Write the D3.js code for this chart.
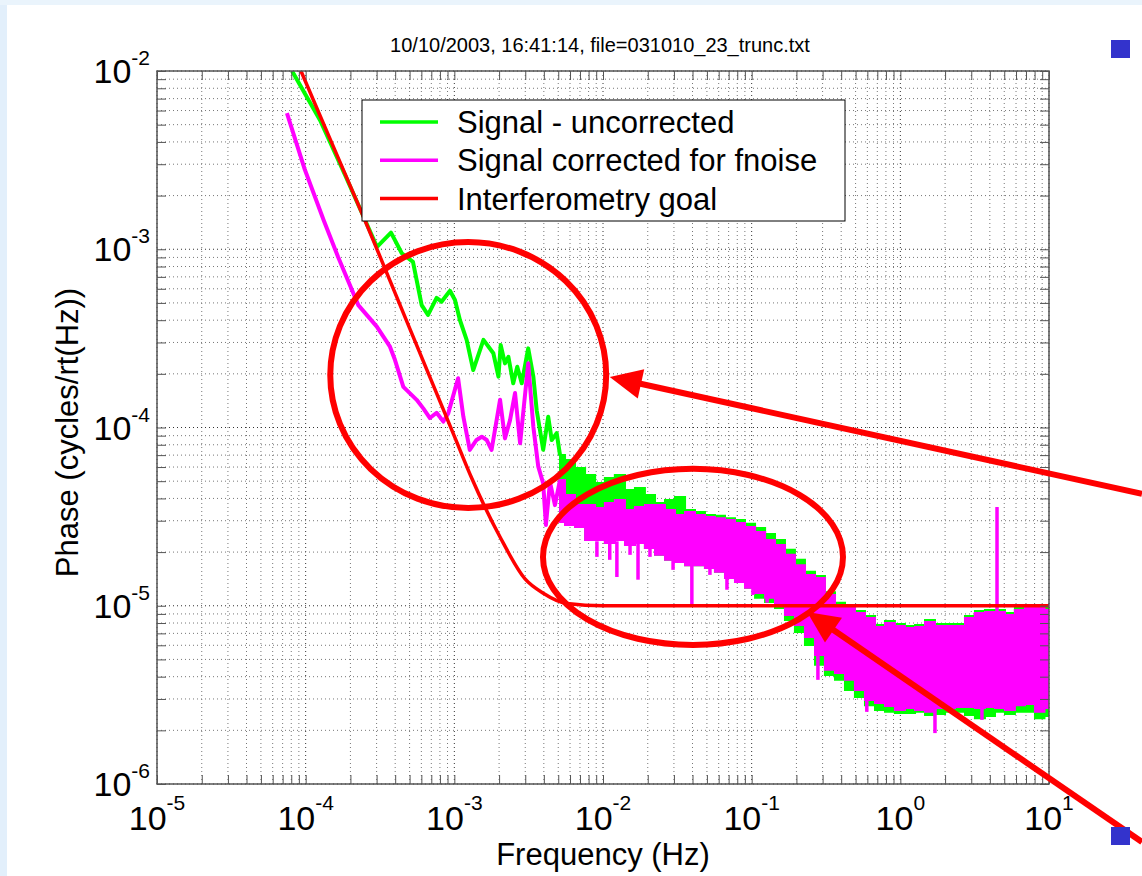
<!DOCTYPE html>
<html>
<head>
<meta charset="utf-8">
<script src="https://cdn.jsdelivr.net/npm/d3@7"></script>
<style>
	body { margin: 0; background: #fff; }
	text { font-family: Arial, "Liberation Sans", sans-serif; fill: #000; }
</style>
</head>
<body>
<svg id="chart"></svg>
<script>
var titleText = '10/10/2003, 16:41:14, file=031010_23_trunc.txt';
var seriesNames = ['Signal - uncorrected', 'Signal corrected for fnoise', 'Interferometry goal'];
var seriesColors = ['#00ff00', '#ff00ff', '#ff0000'];
var xLabel = 'Frequency (Hz)';
var yLabel = 'Phase (cycles/rt(Hz))';

// low frequency part of the spectra, [Hz, cycles/rt(Hz)]
var greenLow = [
	[8.1e-5, 1.0e-2], [1.25e-4, 5.3e-3], [1.84e-4, 2.61e-3], [3.02e-4, 1.03e-3],
	[3.75e-4, 1.24e-3], [4.43e-4, 9.5e-4], [5.27e-4, 8.5e-4], [6.03e-4, 4.86e-4],
	[6.65e-4, 4.28e-4], [7.6e-4, 5.33e-4], [8.2e-4, 5.08e-4], [9.35e-4, 5.85e-4],
	[1.01e-3, 5.19e-4], [1.09e-3, 4.01e-4], [1.21e-3, 3.10e-4], [1.34e-3, 2.10e-4],
	[1.57e-3, 3.10e-4], [1.83e-3, 2.61e-4], [1.98e-3, 1.93e-4], [2.05e-3, 2.90e-4],
	[2.19e-3, 2.29e-4], [2.31e-3, 2.49e-4], [2.49e-3, 1.77e-4], [2.65e-3, 2.19e-4],
	[2.84e-3, 1.77e-4], [3.14e-3, 2.78e-4], [3.40e-3, 1.93e-4], [3.58e-3, 1.25e-4],
	[3.96e-3, 7.5e-5], [4.28e-3, 1.15e-4], [4.52e-3, 8.5e-5], [4.88e-3, 9.3e-5],
	[5.14e-3, 7.0e-5]
];

var magentaLow = [
	[7.48e-5, 5.81e-3], [9.88e-5, 2.79e-3], [1.32e-4, 1.46e-3], [1.65e-4, 9.08e-4],
	[2.26e-4, 4.86e-4], [3.01e-4, 3.68e-4], [3.69e-4, 2.84e-4], [3.99e-4, 2.39e-4],
	[4.54e-4, 1.69e-4], [5.58e-4, 1.43e-4], [6.18e-4, 1.28e-4], [6.85e-4, 1.13e-4],
	[7.60e-4, 1.21e-4], [8.43e-4, 1.08e-4], [9.10e-4, 1.20e-4], [1.06e-3, 1.89e-4],
	[1.15e-3, 1.15e-4], [1.27e-3, 7.48e-5], [1.41e-3, 8.51e-5], [1.53e-3, 8.88e-5],
	[1.65e-3, 8.51e-5], [1.78e-3, 7.48e-5], [2.03e-3, 1.43e-4], [2.19e-3, 8.69e-5],
	[2.37e-3, 1.10e-4], [2.56e-3, 1.56e-4], [2.77e-3, 8.15e-5], [3.14e-3, 2.29e-4],
	[3.40e-3, 1.01e-4], [3.67e-3, 6.03e-5], [3.96e-3, 4.86e-5], [4.13e-3, 2.84e-5],
	[4.40e-3, 4.94e-5], [4.75e-3, 3.67e-5], [5.14e-3, 5.08e-5]
];

var goalCurve = [
	[8.0e-5, 1.35e-2], [9.3e-5, 1.0e-2], [1.5e-4, 3.94e-3], [2.5e-4, 1.46e-3],
	[5.0e-4, 3.61e-4], [1.0e-3, 8.95e-5], [1.31e-3, 5.19e-5], [2.03e-3, 2.43e-5],
	[3.0e-3, 1.41e-5], [3.94e-3, 1.18e-5], [5.73e-3, 1.03e-5], [1.0e-2, 1.0e-5],
	[10, 1.0e-5]
];

// dense noisy part: envelope of the spectra
var bandFreq = [
	5.14e-3, 6.0e-3, 7.0e-3, 8.2e-3, 9.55e-3, 1.11e-2, 1.30e-2, 1.52e-2, 1.77e-2, 2.07e-2,
	2.42e-2, 2.82e-2, 3.30e-2, 3.85e-2, 4.49e-2, 5.24e-2, 6.12e-2, 7.15e-2, 8.34e-2, 9.75e-2,
	0.114, 0.133, 0.155, 0.181, 0.211, 0.247, 0.288, 0.336, 0.393, 0.458,
	0.535, 0.625, 0.730, 0.851, 0.993, 1.16, 1.36, 1.58, 1.85, 2.16,
	2.52, 2.94, 3.43, 4.01, 4.68, 5.46, 6.37, 7.45, 8.69, 10
];
var magentaHi = [
	5.08e-5, 4.18e-5, 3.67e-5, 3.67e-5, 3.53e-5, 3.77e-5, 3.92e-5, 3.44e-5, 3.58e-5, 3.67e-5,
	3.67e-5, 3.44e-5, 3.23e-5, 3.36e-5, 3.23e-5, 3.15e-5, 3.10e-5, 3.03e-5, 2.91e-5, 2.77e-5,
	2.59e-5, 2.34e-5, 2.19e-5, 1.93e-5, 1.69e-5, 1.49e-5, 1.43e-5, 1.15e-5, 1.01e-5, 9.71e-6,
	9.10e-6, 8.53e-6, 7.60e-6, 8.00e-6, 7.70e-6, 7.50e-6, 7.60e-6, 8.11e-6, 7.70e-6, 7.70e-6,
	7.70e-6, 8.53e-6, 9.10e-6, 9.23e-6, 9.23e-6, 8.87e-6, 9.46e-6, 9.71e-6, 9.71e-6, 9.46e-6
];
var magentaLo = [
	2.95e-5, 2.84e-5, 2.77e-5, 2.34e-5, 2.34e-5, 2.25e-5, 2.34e-5, 2.19e-5, 2.25e-5, 2.11e-5,
	1.93e-5, 1.81e-5, 1.76e-5, 1.69e-5, 1.69e-5, 1.63e-5, 1.55e-5, 1.43e-5, 1.36e-5, 1.26e-5,
	1.18e-5, 1.11e-5, 1.01e-5, 8.87e-6, 7.80e-6, 6.68e-6, 5.30e-6, 4.37e-6, 4.20e-6, 3.84e-6,
	3.37e-6, 2.96e-6, 2.85e-6, 2.74e-6, 2.60e-6, 2.67e-6, 2.60e-6, 2.54e-6, 2.67e-6, 2.67e-6,
	2.70e-6, 2.70e-6, 2.67e-6, 2.70e-6, 2.67e-6, 2.60e-6, 2.77e-6, 2.81e-6, 2.54e-6, 2.67e-6
];
var greenHi = [
	7.01e-5, 6.57e-5, 5.93e-5, 5.42e-5, 4.89e-5, 5.21e-5, 5.42e-5, 4.46e-5, 4.58e-5, 4.18e-5,
	3.77e-5, 3.92e-5, 4.07e-5, 3.44e-5, 3.36e-5, 3.23e-5, 3.20e-5, 3.10e-5, 3.03e-5, 2.88e-5,
	2.73e-5, 2.53e-5, 2.34e-5, 2.06e-5, 1.81e-5, 1.55e-5, 1.47e-5, 1.19e-5, 1.04e-5, 9.97e-6,
	9.35e-6, 8.77e-6, 7.80e-6, 8.21e-6, 7.91e-6, 7.70e-6, 7.80e-6, 8.32e-6, 7.91e-6, 7.91e-6,
	7.91e-6, 8.77e-6, 9.35e-6, 9.46e-6, 9.46e-6, 9.10e-6, 9.71e-6, 9.97e-6, 9.97e-6, 9.71e-6
];
var greenLo = [
	2.95e-5, 2.84e-5, 2.77e-5, 2.34e-5, 2.34e-5, 2.25e-5, 2.34e-5, 2.19e-5, 2.25e-5, 2.11e-5,
	1.93e-5, 1.81e-5, 1.76e-5, 1.69e-5, 1.69e-5, 1.63e-5, 1.55e-5, 1.43e-5, 1.36e-5, 1.26e-5,
	1.11e-5, 1.05e-5, 9.71e-6, 8.32e-6, 7.13e-6, 6.03e-6, 4.66e-6, 4.09e-6, 3.84e-6, 3.37e-6,
	3.08e-6, 2.77e-6, 2.60e-6, 2.54e-6, 2.50e-6, 2.50e-6, 2.54e-6, 2.44e-6, 2.47e-6, 2.54e-6,
	2.54e-6, 2.44e-6, 2.34e-6, 2.41e-6, 2.54e-6, 2.47e-6, 2.54e-6, 2.54e-6, 2.34e-6, 2.41e-6
];

// single spikes sticking out of the band, [Hz, from, to]
var magentaSpikes = [
	[9.1e-3, 2.3e-5, 1.88e-5], [1.11e-2, 2.25e-5, 1.81e-5], [1.24e-2, 2.3e-5, 1.45e-5],
	[1.52e-2, 2.2e-5, 1.93e-5], [1.72e-2, 2.25e-5, 1.40e-5], [2.07e-2, 2.1e-5, 1.88e-5],
	[2.96e-2, 1.8e-5, 1.59e-5], [3.96e-2, 1.7e-5, 1.01e-5], [5.24e-2, 1.63e-5, 1.49e-5],
	[6.82e-2, 1.5e-5, 1.23e-5], [0.102, 1.26e-5, 1.15e-5], [0.127, 1.11e-5, 1.04e-5],
	[0.279, 5.5e-6, 3.84e-6], [0.595, 3.2e-6, 2.54e-6], [1.71, 2.7e-6, 1.93e-6],
	[3.54, 2.7e-6, 2.29e-6], [4.47, 9.2e-6, 3.58e-5]
];

// slide annotations: circled regions (centre, half widths in decades) and arrows
var circledRegions = [
	{f: 1.24e-3, v: 1.97e-4, fDecades: 0.928, vDecades: 0.746},
	{f: 4.03e-2, v: 1.88e-5, fDecades: 1.009, vDecades: 0.494}
];
var arrows = [
	{from: [42.2, 4.24e-5], to: [1.11e-2, 1.92e-4]},
	{from: [42.2, 4.73e-7], to: [0.236, 9.23e-6]}
];

var margin = {top: 71, right: 93, bottom: 92, left: 157},
	width = 1142 - margin.left - margin.right,
	height = 876 - margin.top - margin.bottom;

var svg = d3.select('#chart')
	.attr('width', 1142)
	.attr('height', 876);

svg.append('rect').attr('width', 1142).attr('height', 876).attr('fill', '#fff');
svg.append('rect').attr('width', 7).attr('height', 876).attr('fill', '#e2effb');
svg.append('rect').attr('width', 1142).attr('height', 5).attr('fill', '#eaf4fc');

svg.append('text')
	.attr('x', 600)
	.attr('y', 52)
	.attr('text-anchor', 'middle')
	.style('font-size', '20px')
	.text(titleText);

var x = d3.scaleLog().domain([1e-5, 10]).range([0, width]);
var y = d3.scaleLog().domain([1e-6, 1e-2]).range([height, 0]);

function isMajor(t) {
	var l = Math.log10(t);
	return Math.abs(l - Math.round(l)) < 1e-9;
}

var g = svg.append('g')
	.attr('transform', 'translate(' + margin.left + ',' + margin.top + ')');

g.append('clipPath').attr('id', 'plot-clip')
	.append('rect').attr('width', width).attr('height', height);

// grid
var grid = g.append('g').attr('class', 'grid');
grid.selectAll('.vgrid')
	.data(x.ticks())
	.enter()
	.append('line')
	.attr('x1', function(d) { return x(d); })
	.attr('x2', function(d) { return x(d); })
	.attr('y1', 0)
	.attr('y2', height)
	.attr('stroke', function(d) { return isMajor(d) ? '#333' : '#777'; })
	.attr('stroke-dasharray', '1,3');

grid.selectAll('.hgrid')
	.data(y.ticks())
	.enter()
	.append('line')
	.attr('y1', function(d) { return y(d); })
	.attr('y2', function(d) { return y(d); })
	.attr('x1', 0)
	.attr('x2', width)
	.attr('stroke', function(d) { return isMajor(d) ? '#333' : '#777'; })
	.attr('stroke-dasharray', '1,3');

// data
var plot = g.append('g').attr('clip-path', 'url(#plot-clip)');

var line = d3.line()
	.x(function(d) { return x(d[0]); })
	.y(function(d) { return y(d[1]); });

var band = d3.area()
	.x(function(d) { return x(d.f); })
	.y0(function(d) { return y(d.lo); })
	.y1(function(d) { return y(d.hi); })
	.curve(d3.curveStep);

var greenBand = bandFreq.map(function(f, i) { return {f: f, hi: greenHi[i], lo: greenLo[i]}; });
var magentaBand = bandFreq.map(function(f, i) { return {f: f, hi: magentaHi[i], lo: magentaLo[i]}; });

plot.append('path')
	.datum(greenBand)
	.attr('d', band)
	.attr('fill', seriesColors[0])
	.attr('stroke', seriesColors[0])
	.attr('stroke-width', 2);

plot.append('path')
	.datum(greenLow)
	.attr('d', line)
	.attr('fill', 'none')
	.attr('stroke', seriesColors[0])
	.attr('stroke-width', 4)
	.attr('stroke-linejoin', 'round');

plot.append('path')
	.datum(magentaBand)
	.attr('d', band)
	.attr('fill', seriesColors[1])
	.attr('stroke', seriesColors[1])
	.attr('stroke-width', 2);

plot.append('path')
	.datum(magentaLow)
	.attr('d', line)
	.attr('fill', 'none')
	.attr('stroke', seriesColors[1])
	.attr('stroke-width', 4)
	.attr('stroke-linejoin', 'round');

plot.selectAll('.spike')
	.data(magentaSpikes)
	.enter()
	.append('line')
	.attr('class', 'spike')
	.attr('x1', function(d) { return x(d[0]); })
	.attr('x2', function(d) { return x(d[0]); })
	.attr('y1', function(d) { return y(d[1]); })
	.attr('y2', function(d) { return y(d[2]); })
	.attr('stroke', seriesColors[1])
	.attr('stroke-width', 3.5);

plot.append('path')
	.datum(goalCurve)
	.attr('d', line.curve(d3.curveMonotoneX))
	.attr('fill', 'none')
	.attr('stroke', seriesColors[2])
	.attr('stroke-width', 3.5);

// axes box and inward ticks on all sides
g.append('rect')
	.attr('width', width)
	.attr('height', height)
	.attr('fill', 'none')
	.attr('stroke', '#555')
	.attr('stroke-width', 1.5);

function tickAxis(axis, transform) {
	var a = g.append('g')
		.attr('transform', transform)
		.call(axis.tickSizeInner(-9).tickSizeOuter(0).tickFormat(''));
	a.select('.domain').remove();
	a.selectAll('.tick line').attr('stroke', '#555');
}
tickAxis(d3.axisBottom(x).tickValues(x.ticks()), 'translate(0,' + height + ')');
tickAxis(d3.axisTop(x).tickValues(x.ticks()), 'translate(0,0)');
tickAxis(d3.axisLeft(y).tickValues(y.ticks()), 'translate(0,0)');
tickAxis(d3.axisRight(y).tickValues(y.ticks()), 'translate(' + width + ',0)');

// tick labels as 10 with exponent
var xLabels = g.selectAll('.x-label')
	.data(x.ticks().filter(isMajor))
	.enter()
	.append('text')
	.attr('class', 'x-label')
	.attr('x', function(d) { return x(d); })
	.attr('y', height + 46)
	.attr('text-anchor', 'middle')
	.style('font-size', '34px');
xLabels.append('tspan').text('10');
xLabels.append('tspan')
	.attr('dy', -20)
	.style('font-size', '21px')
	.text(function(d) { return Math.round(Math.log10(d)); });

var yLabels = g.selectAll('.y-label')
	.data(y.ticks().filter(isMajor))
	.enter()
	.append('text')
	.attr('class', 'y-label')
	.attr('x', -7)
	.attr('y', function(d) { return y(d) + 12; })
	.attr('text-anchor', 'end')
	.style('font-size', '34px');
yLabels.append('tspan').text('10');
yLabels.append('tspan')
	.attr('dy', -18)
	.style('font-size', '21px')
	.text(function(d) { return Math.round(Math.log10(d)); });

g.append('text')
	.attr('x', width / 2)
	.attr('y', height + 81)
	.attr('text-anchor', 'middle')
	.style('font-size', '31px')
	.text(xLabel);

g.append('text')
	.attr('transform', 'translate(' + (78 - margin.left) + ',' + (height / 2 + 5) + ') rotate(-90)')
	.attr('text-anchor', 'middle')
	.style('font-size', '31px')
	.text(yLabel);

// legend
var legend = svg.append('g').attr('transform', 'translate(362,100)');
legend.append('rect')
	.attr('width', 483)
	.attr('height', 121)
	.attr('fill', '#fff')
	.attr('stroke', '#000')
	.attr('stroke-width', 1);

var legendItem = legend.selectAll('.legend-item')
	.data(seriesNames)
	.enter()
	.append('g')
	.attr('class', 'legend-item')
	.attr('transform', function(d, i) { return 'translate(0,' + (22 + i * 38.3) + ')'; });

legendItem.append('line')
	.attr('x1', 18)
	.attr('x2', 76)
	.attr('stroke', function(d, i) { return seriesColors[i]; })
	.attr('stroke-width', 3.5);

legendItem.append('text')
	.attr('x', 95)
	.attr('y', 11)
	.style('font-size', '31px')
	.text(function(d) { return d; });

// slide annotations on top of the chart
var notes = g.append('g');
notes.selectAll('.circled')
	.data(circledRegions)
	.enter()
	.append('ellipse')
	.attr('cx', function(d) { return x(d.f); })
	.attr('cy', function(d) { return y(d.v); })
	.attr('rx', function(d) { return x(d.f * Math.pow(10, d.fDecades)) - x(d.f); })
	.attr('ry', function(d) { return y(d.v) - y(d.v * Math.pow(10, d.vDecades)); })
	.attr('fill', 'none')
	.attr('stroke', '#ff0000')
	.attr('stroke-width', 6);

arrows.forEach(function(a) {
	var x0 = x(a.from[0]), y0 = y(a.from[1]),
		x1 = x(a.to[0]), y1 = y(a.to[1]);
	var len = Math.sqrt((x1 - x0) * (x1 - x0) + (y1 - y0) * (y1 - y0)),
		ux = (x1 - x0) / len, uy = (y1 - y0) / len,
		headLen = 32, headHalf = 15,
		bx = x1 - ux * headLen, by = y1 - uy * headLen;

	notes.append('line')
		.attr('x1', x0).attr('y1', y0)
		.attr('x2', bx + ux * 4).attr('y2', by + uy * 4)
		.attr('stroke', '#ff0000')
		.attr('stroke-width', 6);

	notes.append('path')
		.attr('d', 'M' + x1 + ',' + y1 +
			'L' + (bx - uy * headHalf) + ',' + (by + ux * headHalf) +
			'L' + (bx + uy * headHalf) + ',' + (by - ux * headHalf) + 'Z')
		.attr('fill', '#ff0000');
});

// slide bullets
svg.selectAll('.bullet')
	.data([40, 827])
	.enter()
	.append('rect')
	.attr('class', 'bullet')
	.attr('x', 1111)
	.attr('y', function(d) { return d; })
	.attr('width', 19)
	.attr('height', 18)
	.attr('fill', '#3333cc');
</script>
</body>
</html>
